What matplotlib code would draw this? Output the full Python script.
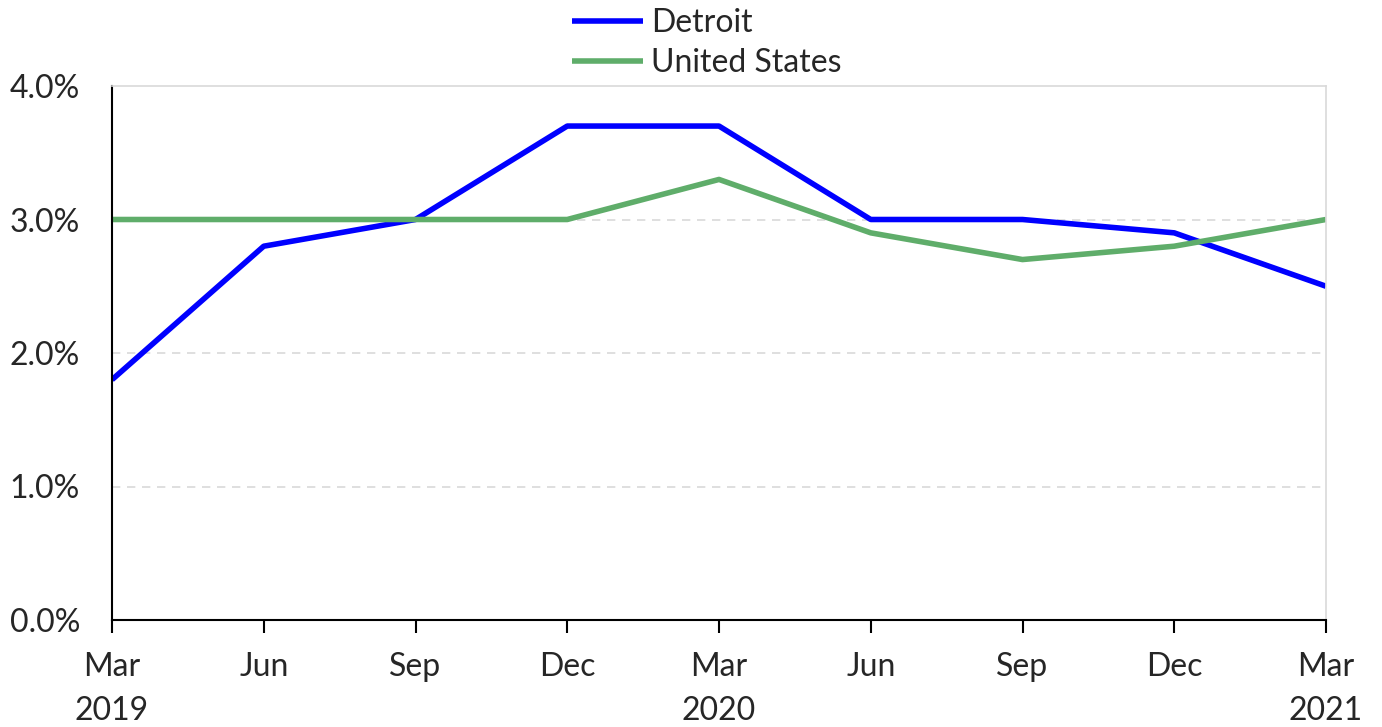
import matplotlib.pyplot as plt
from matplotlib.ticker import FuncFormatter

quarters = ["Mar\n2019", "Jun", "Sep", "Dec", "Mar\n2020", "Jun", "Sep", "Dec", "Mar\n2021"]
detroit = [1.8, 2.8, 3.0, 3.7, 3.7, 3.0, 3.0, 2.9, 2.5]
united_states = [3.0, 3.0, 3.0, 3.0, 3.3, 2.9, 2.7, 2.8, 3.0]

plt.rcParams['font.family'] = ['Lato', 'DejaVu Sans']

W, H = 1382, 727
left, right, top, bottom = 112, 1326, 86, 620
fig = plt.figure(figsize=(W / 100, H / 100), dpi=100)
ax = fig.add_axes([left / W, 1 - bottom / H, (right - left) / W, (bottom - top) / H])

x = list(range(len(quarters)))
ax.plot(x, detroit, color="#0000ff", lw=4, label="Detroit", solid_capstyle="butt")
ax.plot(x, united_states, color="#5fad6a", lw=4, label="United States", solid_capstyle="butt")

ax.set_xlim(0, len(quarters) - 1)
ax.set_ylim(0, 4.0)
ax.set_yticks([0, 1, 2, 3, 4])
ax.yaxis.set_major_formatter(FuncFormatter(lambda v, p: f"{v:.1f}%"))
ax.set_xticks(x)
ax.set_xticklabels(quarters)

for v in [1, 2, 3]:
    ax.axhline(v, color="#d9d9d9", lw=1.2, ls=(0, (5, 4)), zorder=0)

for s in ["top", "right"]:
    ax.spines[s].set_color("#d9d9d9")
    ax.spines[s].set_linewidth(1.2)
ax.spines["left"].set_color("black")
ax.spines["bottom"].set_color("black")
ax.spines["left"].set_linewidth(1.5)
ax.spines["bottom"].set_linewidth(1.5)

ax.tick_params(axis="y", length=0, labelsize=23, pad=23, colors="#262626")
ax.tick_params(axis="x", direction="out", length=9, width=1.5, labelsize=23, pad=14, colors="black", labelcolor="#262626")
for lbl in ax.get_xticklabels():
    lbl.set_linespacing(1.6)
    lbl.set_verticalalignment("top")

# legend centred over the plot area, pinned to the top edge of the figure
leg = ax.legend(loc="upper center", bbox_to_anchor=(0.49, 1 + top / (bottom - top)), frameon=False,
                fontsize=23, handlelength=2.2, handletextpad=0.25, labelspacing=0.32,
                borderaxespad=0, borderpad=0.25)
for t in leg.get_texts():
    t.set_color("#262626")

fig.savefig("out.png", dpi=100)
